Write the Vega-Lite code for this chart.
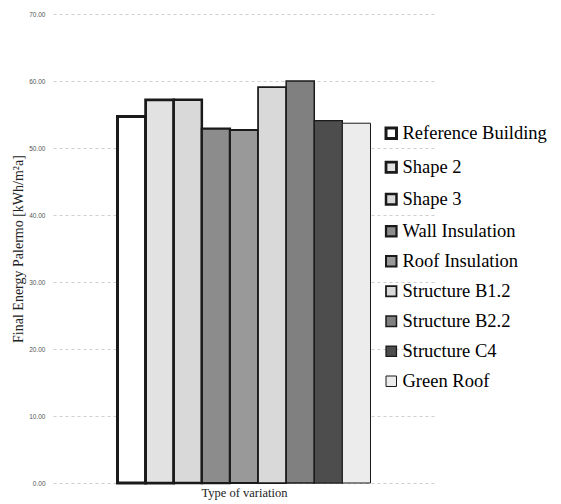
{
  "$schema": "https://vega.github.io/schema/vega-lite/v6.json",
  "autosize": "none",
  "padding": {"left": 53, "top": 14, "right": 126, "bottom": 21},
  "width": 382,
  "height": 469,
  "background": "white",
  "config": {
    "view": {"stroke": null},
    "legend": {
      "labelFont": "Liberation Serif",
      "labelFontSize": 18.5,
      "labelColor": "#000000",
      "labelOffset": 2,
      "labelLimit": 300,
      "symbolType": "square",
      "symbolSize": 110,
      "symbolOpacity": 1,
      "rowPadding": 11
    }
  },
  "data": {
    "values": [
      {"group": "Type of variation", "variation": "Reference Building", "energy": 54.7},
      {"group": "Type of variation", "variation": "Shape 2", "energy": 57.2},
      {"group": "Type of variation", "variation": "Shape 3", "energy": 57.2},
      {"group": "Type of variation", "variation": "Wall Insulation", "energy": 52.9},
      {"group": "Type of variation", "variation": "Roof Insulation", "energy": 52.7},
      {"group": "Type of variation", "variation": "Structure B1.2", "energy": 59.1},
      {"group": "Type of variation", "variation": "Structure B2.2", "energy": 60.0},
      {"group": "Type of variation", "variation": "Structure C4", "energy": 54.1},
      {"group": "Type of variation", "variation": "Green Roof", "energy": 53.7}
    ]
  },
  "mark": {"type": "bar", "stroke": "#1a1a1a"},
  "encoding": {
    "x": {
      "field": "group",
      "type": "nominal",
      "scale": {"paddingInner": 0, "paddingOuter": 0.255},
      "axis": {
        "labels": false,
        "ticks": false,
        "domain": false,
        "title": "Type of variation",
        "titleFont": "Liberation Serif",
        "titleFontSize": 12.5,
        "titleFontWeight": "normal",
        "titleColor": "#222222",
        "titlePadding": 3
      }
    },
    "xOffset": {
      "field": "variation",
      "type": "nominal",
      "sort": null,
      "scale": {"paddingInner": 0, "paddingOuter": 0}
    },
    "y": {
      "field": "energy",
      "type": "quantitative",
      "scale": {"domain": [0, 70], "nice": false},
      "axis": {
        "values": [0, 10, 20, 30, 40, 50, 60, 70],
        "format": ".2f",
        "ticks": false,
        "domain": false,
        "grid": true,
        "gridDash": [3, 3],
        "gridColor": "#cfcfcf",
        "gridWidth": 1,
        "labelFont": "Liberation Sans",
        "labelFontSize": 6.5,
        "labelColor": "#555555",
        "labelPadding": 8,
        "title": "Final  Energy  Palermo  [kWh/m²a]",
        "titleFont": "Liberation Serif",
        "titleFontSize": 14,
        "titleFontWeight": "normal",
        "titleColor": "#222222",
        "titlePadding": 3
      }
    },
    "color": {
      "field": "variation",
      "type": "nominal",
      "sort": null,
      "scale": {
        "domain": ["Reference Building", "Shape 2", "Shape 3", "Wall Insulation", "Roof Insulation", "Structure B1.2", "Structure B2.2", "Structure C4", "Green Roof"],
        "range": ["#ffffff", "#e2e2e2", "#d9d9d9", "#8c8c8c", "#999999", "#d9d9d9", "#808080", "#4d4d4d", "#ececec"]
      },
      "legend": {
        "orient": "none",
        "legendX": 329,
        "legendY": 110,
        "title": null,
        "symbolStrokeColor": "#111111",
        "labelFont": "Liberation Serif",
        "labelFontSize": 18.5
      }
    },
    "strokeWidth": {
      "field": "variation",
      "type": "nominal",
      "sort": null,
      "scale": {
        "domain": ["Reference Building", "Shape 2", "Shape 3", "Wall Insulation", "Roof Insulation", "Structure B1.2", "Structure B2.2", "Structure C4", "Green Roof"],
        "range": [3, 1, 1, 1, 1, 1, 1, 1, 1]
      }
    }
  }
}
